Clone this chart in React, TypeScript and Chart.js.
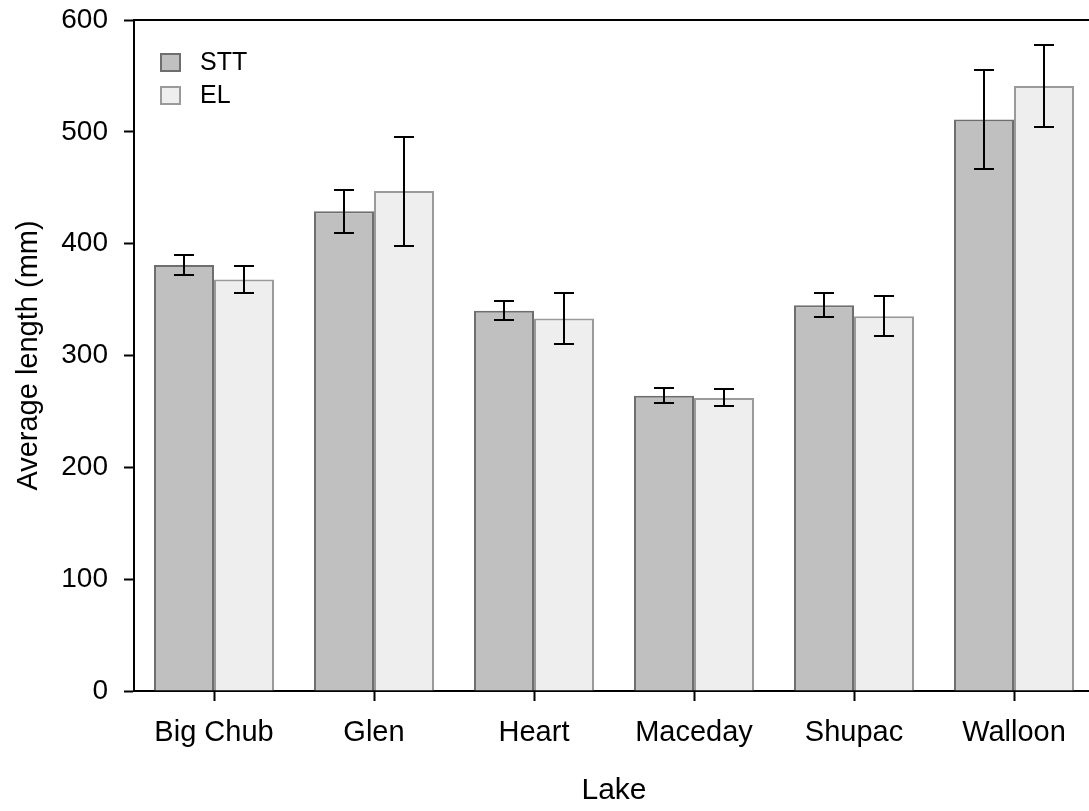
import React, { useEffect, useRef } from "react";
import { Chart, registerables } from "chart.js";

Chart.register(...registerables);

const categories = ["Big Chub", "Glen", "Heart", "Maceday", "Shupac", "Walloon"];
const sttMeans = [381, 429, 340, 264, 345, 511];
const sttErrors = [8.7, 19.4, 8.4, 6.6, 10.5, 44.5];
const elMeans = [368, 447, 333, 262, 335, 541];
const elErrors = [12, 48.7, 23, 7.6, 18, 36.3];
const yTicks = [0, 100, 200, 300, 400, 500, 600];

const seriesLabels = ["STT", "EL"];
const errorSets = [sttErrors, elErrors];
const FONT = "'Liberation Sans', Arial, Helvetica, sans-serif";

const errorBarPlugin = {
  id: "errorBars",
  afterDatasetsDraw(chart: any) {
    const ctx = chart.ctx;
    const yScale = chart.scales.y;
    ctx.save();
    ctx.strokeStyle = "#000";
    ctx.lineWidth = 2;
    chart.data.datasets.forEach((ds: any, di: number) => {
      const meta = chart.getDatasetMeta(di);
      const errs = errorSets[di];
      meta.data.forEach((el: any, i: number) => {
        const v = ds.data[i];
        const e = errs[i];
        const x = Math.round(el.x);
        const yt = Math.round(yScale.getPixelForValue(v + e));
        const yb = Math.round(yScale.getPixelForValue(v - e));
        ctx.beginPath();
        ctx.moveTo(x, yt);
        ctx.lineTo(x, yb);
        ctx.moveTo(x - 10, yt);
        ctx.lineTo(x + 10, yt);
        ctx.moveTo(x - 10, yb);
        ctx.lineTo(x + 10, yb);
        ctx.stroke();
      });
    });
    ctx.restore();
  },
};

const framePlugin = {
  id: "frame",
  afterDraw(chart: any) {
    const ctx = chart.ctx;
    const a = chart.chartArea;
    ctx.save();
    ctx.strokeStyle = "#000";
    ctx.lineWidth = 2;
    ctx.beginPath();
    ctx.moveTo(a.left, a.top);
    ctx.lineTo(chart.width, a.top);
    ctx.stroke();
    // legend
    const bx = a.left + 26;
    let by = a.top + 33;
    chart.data.datasets.forEach((ds: any) => {
      ctx.fillStyle = ds.backgroundColor;
      ctx.fillRect(bx, by, 21, 19);
      ctx.strokeStyle = ds.borderColor;
      ctx.lineWidth = 2;
      ctx.strokeRect(bx + 1, by + 1, 19, 17);
      ctx.fillStyle = "#000";
      ctx.font = `25px ${FONT}`;
      ctx.textBaseline = "middle";
      ctx.textAlign = "left";
      ctx.fillText(ds.label, bx + 40, by + 10);
      by += 33;
    });
    ctx.restore();
  },
};

export default function App() {
  const ref = useRef<HTMLCanvasElement>(null);
  useEffect(() => {
    if (!ref.current) return;
    const chart = new Chart(ref.current, {
      type: "bar",
      data: {
        labels: categories,
        datasets: [
          {
            label: seriesLabels[0],
            data: sttMeans,
            backgroundColor: "#c0c0c0",
            borderColor: "#6e6e6e",
            borderWidth: 2,
            categoryPercentage: 0.75,
            barPercentage: 1.0,
          },
          {
            label: seriesLabels[1],
            data: elMeans,
            backgroundColor: "#eeeeee",
            borderColor: "#9a9a9a",
            borderWidth: 2,
            categoryPercentage: 0.75,
            barPercentage: 1.0,
          },
        ],
      },
      options: {
        responsive: false,
        animation: false,
        devicePixelRatio: 1,
        layout: { padding: { top: 20, right: 6, left: 0, bottom: 0 } },
        plugins: { legend: { display: false }, tooltip: { enabled: false } },
        scales: {
          x: {
            offset: true,
            grid: {
              offset: false,
              drawOnChartArea: false,
              drawTicks: true,
              tickLength: 10,
              tickColor: "#000",
              tickWidth: 2,
            },
            border: { display: true, color: "#000", width: 2 },
            ticks: {
              color: "#000",
              font: { family: FONT, size: 29 },
              padding: 15,
              maxRotation: 0,
              autoSkip: false,
            },
            title: {
              display: true,
              text: "Lake",
              color: "#000",
              font: { family: FONT, size: 30 },
              padding: { top: 0, bottom: 2 },
            },
            afterFit(scale: any) {
              scale.height = 120;
              scale.paddingLeft = 0;
              scale.paddingRight = 0;
            },
          },
          y: {
            min: 0,
            max: 600,
            afterBuildTicks(scale: any) {
              scale.ticks = yTicks.map((v) => ({ value: v }));
            },
            grid: {
              drawOnChartArea: false,
              drawTicks: true,
              tickLength: 10,
              tickColor: "#000",
              tickWidth: 2,
            },
            border: { display: true, color: "#000", width: 2 },
            ticks: {
              color: "#000",
              font: { family: FONT, size: 28 },
              padding: 16,
            },
            title: {
              display: true,
              text: "Average length (mm)",
              color: "#000",
              font: { family: FONT, size: 29 },
              padding: { top: 12, bottom: 0 },
            },
            afterFit(scale: any) {
              scale.width = 134;
              scale.paddingTop = 0;
              scale.paddingBottom = 0;
            },
          },
        },
      },
      plugins: [errorBarPlugin, framePlugin],
    });
    return () => chart.destroy();
  }, []);
  return (
    <div
      style={{
        position: "fixed",
        left: 0,
        top: 0,
        width: 1089,
        height: 811,
        overflow: "hidden",
        background: "#fff",
      }}
    >
      <canvas ref={ref} width={1100} height={811} style={{ width: 1100, height: 811, display: "block" }} />
    </div>
  );
}
